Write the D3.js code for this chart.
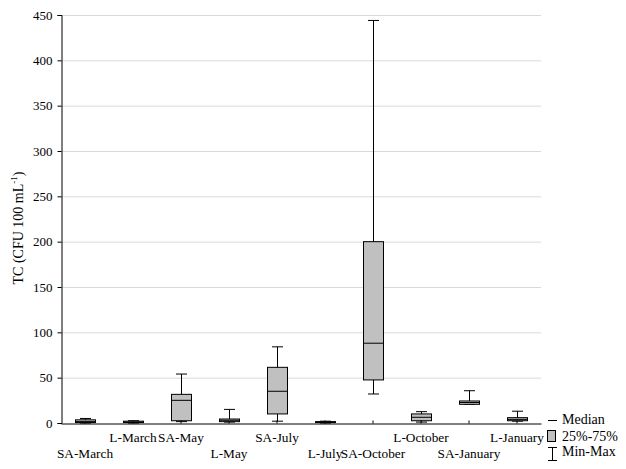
<!DOCTYPE html>
<html><head><meta charset="utf-8">
<script src="https://cdn.jsdelivr.net/npm/d3@7"></script>
<style>body{margin:0;background:#fff}svg{display:block}svg text{font-family:"Liberation Serif","Times New Roman",serif !important;}</style>
</head><body><svg id="c" width="626" height="469"></svg>
<script>
const categories = ["SA-March","L-March","SA-May","L-May","SA-July","L-July","SA-October","L-October","SA-January","L-January"];
const minVals    = [0,   0,   1.5, 1,   2,   0,   32,  1,    20.6, 2];
const q1Vals     = [0.5, 0.5, 2.5, 1.5, 10,  0.5, 47.5,2.5,  20.6, 2.5];
const medianVals = [1.5, 1,   25,  3,   35,  1,   88,  6.3,  22.6, 4];
const q3Vals     = [3.5, 2,   31.6,4.4, 61.4,1.5, 200, 10,   24.3, 5.9];
const maxVals    = [5,   2.5, 54,  15,  84,  2,   444, 12.5, 35.6, 13];
const labelRow   = [1,0,0,1,0,1,1,0,1,0];
const yTicks = [0,50,100,150,200,250,300,350,400,450];

const svg = d3.select("#c");
const m = {l:61, r:541, t:15, b:423};
const x = d3.scaleBand().domain(categories).range([m.l, m.r]);
const y = d3.scaleLinear().domain([0,450]).range([m.b, m.t]);

// grid
svg.append("g").selectAll("line").data(yTicks.filter(d=>d>0)).join("line")
  .attr("x1",m.l).attr("x2",m.r).attr("y1",d=>y(d)+0.5).attr("y2",d=>y(d)+0.5)
  .attr("stroke","#d9d9d9").attr("stroke-width",1);

// y axis
const ya = svg.append("g").attr("transform",`translate(${m.l+0.5},0)`)
  .call(d3.axisLeft(y).tickValues(yTicks).tickSize(4).tickPadding(5));
ya.attr("font-family",null);
ya.select(".domain").attr("stroke","#000");
ya.selectAll("text").attr("font-size","13px").attr("fill","#000");
ya.selectAll(".tick line").attr("stroke","#000");

// x axis
const xa = svg.append("g").attr("transform",`translate(0,${m.b+0.5})`)
  .call(d3.axisBottom(x).tickSize(-3).tickSizeOuter(0).tickFormat(""));
xa.select(".domain").attr("stroke","#000");
xa.selectAll(".tick line").attr("stroke","#000");

svg.append("g").selectAll("text").data(categories).join("text")
  .attr("x",d=>x(d)+x.bandwidth()/2)
  .attr("y",(d,i)=> labelRow[i] ? 458 : 442)
  .attr("text-anchor","middle").attr("font-size","13.3px").attr("fill","#000")
  .text(d=>d);

// boxes
const bw = 20, cw = 11;
const g = svg.append("g");
categories.forEach((c,i)=>{
  const cx = Math.round(x(c)+x.bandwidth()/2)+0.5;
  g.append("line").attr("x1",cx).attr("x2",cx).attr("y1",y(maxVals[i])).attr("y2",y(minVals[i])).attr("stroke","#000");
  g.append("line").attr("x1",cx-cw/2).attr("x2",cx+cw/2).attr("y1",y(maxVals[i])).attr("y2",y(maxVals[i])).attr("stroke","#000");
  g.append("line").attr("x1",cx-cw/2).attr("x2",cx+cw/2).attr("y1",y(minVals[i])).attr("y2",y(minVals[i])).attr("stroke","#000");
  g.append("rect").attr("x",cx-bw/2).attr("width",bw)
    .attr("y",y(q3Vals[i])).attr("height",Math.max(0.5,y(q1Vals[i])-y(q3Vals[i])))
    .attr("fill","#c0c0c0").attr("stroke","#000");
  g.append("line").attr("x1",cx-bw/2).attr("x2",cx+bw/2).attr("y1",y(medianVals[i])).attr("y2",y(medianVals[i])).attr("stroke","#000");
});

// y label
svg.append("text").attr("transform","translate(23,228) rotate(-90)")
  .attr("text-anchor","middle").attr("font-size","14px").attr("fill","#000")
  .html('TC (CFU 100 mL<tspan dy="-6" font-size="9px">-1</tspan><tspan dy="6">)</tspan>');

// legend
const lg = svg.append("g");
lg.append("line").attr("x1",548).attr("x2",557).attr("y1",420.5).attr("y2",420.5).attr("stroke","#000");
lg.append("text").attr("x",562).attr("y",424).attr("font-size","14px").text("Median");
lg.append("rect").attr("x",547.5).attr("y",430.5).attr("width",8).attr("height",11).attr("fill","#c0c0c0").attr("stroke","#000");
lg.append("text").attr("x",562).attr("y",441).attr("font-size","14px").text("25%-75%");
lg.append("line").attr("x1",552.5).attr("x2",552.5).attr("y1",447).attr("y2",461).attr("stroke","#000");
lg.append("line").attr("x1",548).attr("x2",557).attr("y1",447.5).attr("y2",447.5).attr("stroke","#000");
lg.append("line").attr("x1",548).attr("x2",557).attr("y1",460.5).attr("y2",460.5).attr("stroke","#000");
lg.append("text").attr("x",562).attr("y",456).attr("font-size","14px").text("Min-Max");
</script></body></html>
